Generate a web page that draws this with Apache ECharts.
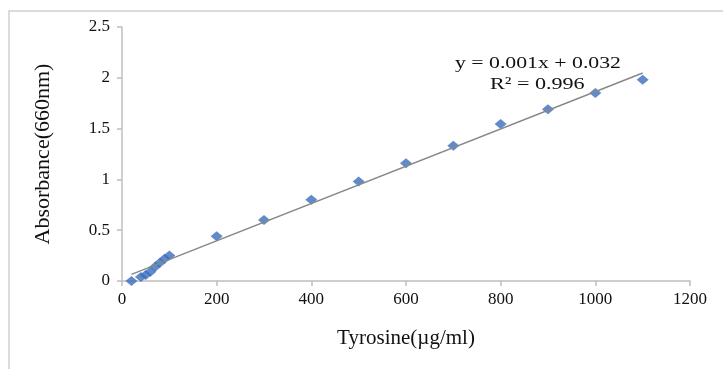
<!DOCTYPE html>
<html>
<head>
<meta charset="utf-8">
<script src="https://cdn.jsdelivr.net/npm/echarts@6/dist/echarts.min.js"></script>
<style>
  html, body { margin: 0; padding: 0; background: #fff; }
  #chart { width: 723px; height: 369px; }
</style>
</head>
<body>
<div id="chart"></div>
<script>
// concentration (µg/ml) vs absorbance at 660nm
const tyrosine = [20, 40, 50, 60, 70, 80, 90, 100, 200, 300, 400, 500, 600, 700, 800, 900, 1000, 1100];
const absorbance = [0, 0.04, 0.06, 0.09, 0.14, 0.18, 0.22, 0.25, 0.44, 0.6, 0.8, 0.98, 1.16, 1.33, 1.545, 1.69, 1.85, 1.98];
// trendline end points as drawn
const trendX = [20, 1100];
const trendY = [0.065, 2.047];

const serif = '"Liberation Serif", "Times New Roman", serif';

const chart = echarts.init(document.getElementById('chart'));
chart.setOption({
  animation: false,
  grid: { left: 122, right: 33, top: 27, bottom: 88 },
  xAxis: {
    type: 'value',
    min: 0,
    max: 1200,
    interval: 200,
    name: 'Tyrosine(µg/ml)',
    nameLocation: 'middle',
    nameGap: 47,
    nameTextStyle: { fontFamily: serif, fontSize: 21, color: '#111' },
    axisLine: { lineStyle: { color: '#bfbfbf', width: 1.5 } },
    axisTick: { show: true, length: 5, lineStyle: { color: '#bfbfbf', width: 1.5 } },
    axisLabel: { fontFamily: serif, fontSize: 17, color: '#111', margin: 10, formatter: v => String(v) },
    splitLine: { show: false }
  },
  yAxis: {
    type: 'value',
    min: 0,
    max: 2.5,
    interval: 0.5,
    name: 'Absorbance(660nm)',
    nameLocation: 'middle',
    nameGap: 68,
    nameTextStyle: { fontFamily: serif, fontSize: 22, color: '#111' },
    axisLine: { show: true, lineStyle: { color: '#bfbfbf', width: 1.5 } },
    axisTick: { show: true, length: 5, lineStyle: { color: '#bfbfbf', width: 1.5 } },
    axisLabel: { fontFamily: serif, fontSize: 17, color: '#111', margin: 12 },
    splitLine: { show: false }
  },
  series: [
    {
      type: 'scatter',
      data: tyrosine.map((x, i) => [x, absorbance[i]]),
      symbol: 'diamond',
      symbolSize: [12, 10],
      itemStyle: { color: '#3a6dbd' },
      z: 3
    },
    {
      type: 'line',
      data: trendX.map((x, i) => [x, trendY[i]]),
      symbol: 'none',
      lineStyle: { color: '#888', width: 1.5 },
      z: 4
    }
  ],
  graphic: [
    {
      type: 'rect',
      shape: { x: 9, y: 11, width: 730, height: 380 },
      style: { fill: 'none', stroke: '#d0d0d0', lineWidth: 1.5 },
      silent: true
    },
    {
      type: 'text',
      x: 455, y: 55, scaleX: 1.28,
      style: { text: 'y = 0.001x + 0.032', font: '17px ' + serif, fill: '#111' }
    },
    {
      type: 'text',
      x: 490, y: 76, scaleX: 1.3,
      style: { text: 'R² = 0.996', font: '17px ' + serif, fill: '#111' }
    }
  ]
});
</script>
</body>
</html>
